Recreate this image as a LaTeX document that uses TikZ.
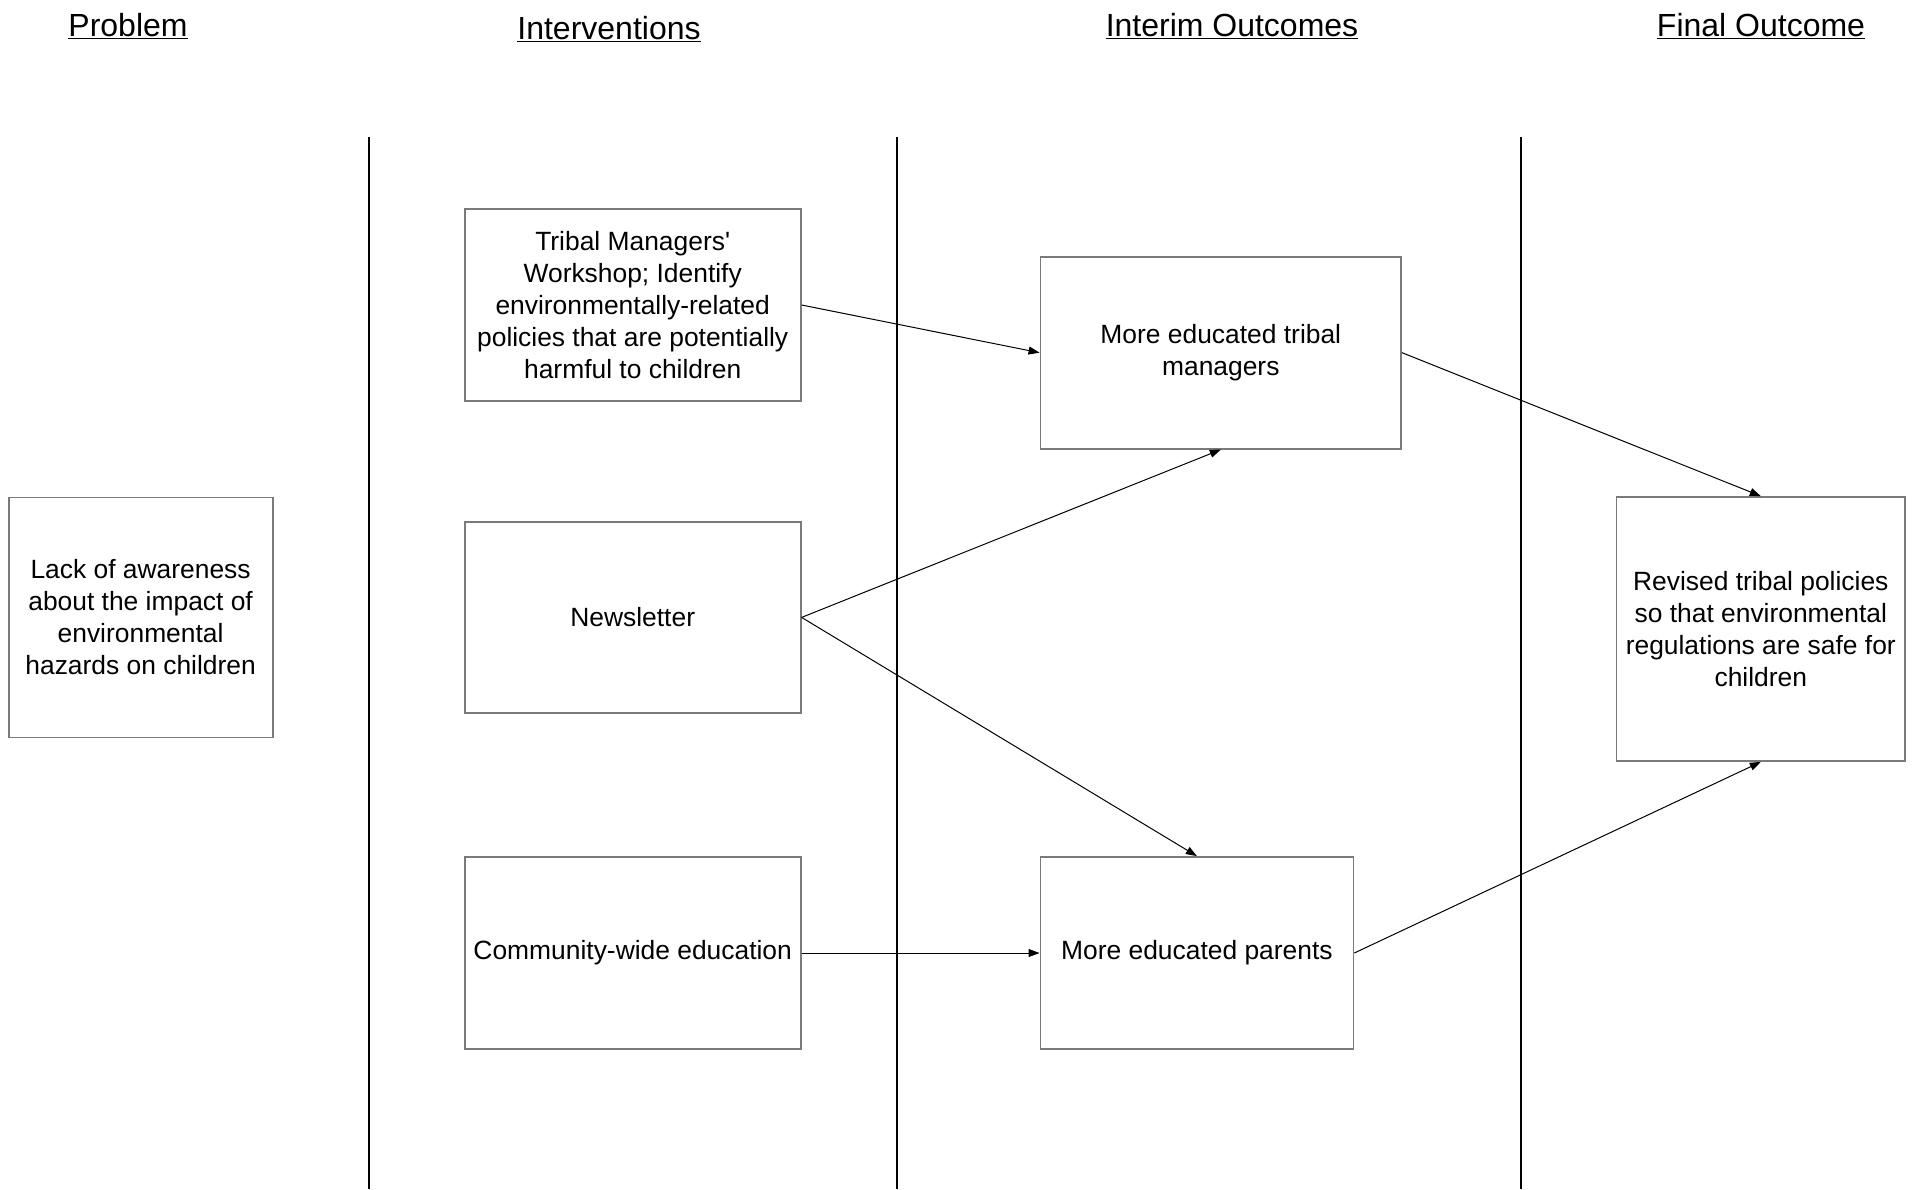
\documentclass[tikz,border=0pt]{standalone}
\usepackage{fontspec}
\setmainfont{Liberation Sans}
\usetikzlibrary{arrows.meta}

\definecolor{boxgray}{HTML}{7A7A7A}
\tikzset{
  box/.style={draw=boxgray, line width=1.8pt, inner sep=0pt, align=center,
    font=\fontsize{26.4}{32}\selectfont, text=black},
  heading/.style={anchor=base, inner sep=0pt, font=\fontsize{32}{36}\selectfont},
  lane/.style={draw=black, line width=2pt},
  link/.style={draw=black, line width=1pt, -{Triangle[length=11pt,width=8pt]}},
}

\begin{document}
\begin{tikzpicture}[x=1pt, y=-1pt]
  \useasboundingbox (0,0) rectangle (1917,1189);

  % column headings
  \node[heading] (hprob)  at (128,36)  {\underline{Problem}};
  \node[heading] (hint)   at (609,39)  {\underline{Interventions}};
  \node[heading] (hinter) at (1232,36) {\underline{Interim Outcomes}};
  \node[heading] (hfinal) at (1761,36) {\underline{Final Outcome}};

  % column separators
  \draw[lane] (369,137) -- (369,1189);
  \draw[lane] (897,137) -- (897,1189);
  \draw[lane] (1521,137) -- (1521,1189);

  % boxes
  \node[box, minimum width=264pt, minimum height=240pt] (prob) at (140.6,617.4)
    {Lack of awareness\\about the impact of\\environmental\\hazards on children};
  \node[box, minimum width=336pt, minimum height=192pt] (tribal) at (632.7,305)
    {Tribal Managers\textquotesingle\\Workshop; Identify\\environmentally-related\\policies that are potentially\\harmful to children};
  \node[box, minimum width=336pt, minimum height=191pt] (news) at (632.7,617.4)
    {Newsletter};
  \node[box, minimum width=336pt, minimum height=192pt] (comm) at (632.7,953)
    {Community-wide education};
  \node[box, minimum width=360.7pt, minimum height=192pt] (mgr) at (1220.8,352.7)
    {More educated tribal\\managers};
  \node[box, minimum width=313pt, minimum height=192pt] (par) at (1196.9,953)
    {More educated parents};
  \node[box, minimum width=288.5pt, minimum height=264pt] (rev) at (1760.8,629)
    {Revised tribal policies\\so that environmental\\regulations are safe for\\children};

  % connectors
  \draw[link] (tribal.east) -- (mgr.west);
  \draw[link] (news.east) -- (mgr.south);
  \draw[link] (news.east) -- (par.north);
  \draw[link] (comm.east) -- (par.west);
  \draw[link] (mgr.east) -- (rev.north);
  \draw[link] (par.east) -- (rev.south);
\end{tikzpicture}
\end{document}
